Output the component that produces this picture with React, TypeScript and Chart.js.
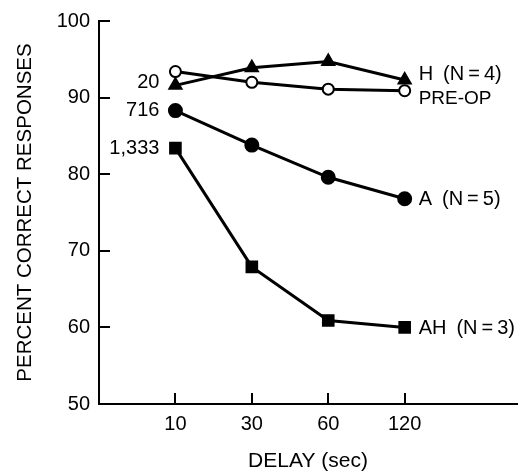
import React, { useEffect, useRef } from "react";
import { Chart, registerables } from "chart.js";

Chart.register(...registerables);

const delayLabels = ["10", "30", "60", "120"];
const yTicks = [50, 60, 70, 80, 90, 100];

const hValues = [91.6, 93.9, 94.7, 92.3];
const preOpValues = [93.4, 92.0, 91.1, 90.9];
const aValues = [88.3, 83.8, 79.6, 76.8];
const ahValues = [83.4, 67.9, 60.9, 60.0];

const seriesNames = ["H\u2002(N\u2009=\u20094)", "PRE-OP", "A\u2002(N\u2009=\u20095)", "AH\u2002(N\u2009=\u20093)"];
const countLabels = ["20", "", "716", "1,333"];

const FONT = "'Liberation Sans', Arial, Helvetica, sans-serif";

const toPts = (arr: number[]) => arr.map((y, i) => ({ x: i + 1, y }));

const decorPlugin = {
  id: "decor",
  afterDatasetsDraw(chart: any) {
    const ctx = chart.ctx;
    const xs = chart.scales.x;
    const ys = chart.scales.y;
    const area = chart.chartArea;
    ctx.save();
    ctx.strokeStyle = "#000";
    ctx.lineWidth = 2;
    // inward ticks
    yTicks.forEach((v) => {
      const py = Math.round(ys.getPixelForValue(v));
      ctx.beginPath();
      ctx.moveTo(area.left, py);
      ctx.lineTo(area.left + 11, py);
      ctx.stroke();
    });
    delayLabels.forEach((_, i) => {
      const px = Math.round(xs.getPixelForValue(i + 1));
      ctx.beginPath();
      ctx.moveTo(px, area.bottom);
      ctx.lineTo(px, area.bottom - 11);
      ctx.stroke();
    });
    // series labels
    ctx.fillStyle = "#000";
    ctx.textBaseline = "middle";
    const nameOffsets = [-5, 8, 1, 1];
    const nameSizes = [20, 19, 20, 20];
    chart.data.datasets.forEach((ds: any, di: number) => {
      const last = ds.data[ds.data.length - 1];
      const px = xs.getPixelForValue(last.x);
      const py = ys.getPixelForValue(last.y);
      ctx.font = nameSizes[di] + "px " + FONT;
      ctx.textAlign = "left";
      ctx.fillText(seriesNames[di], px + 14, py + nameOffsets[di]);
      const lbl = countLabels[di];
      if (lbl) {
        const first = ds.data[0];
        const fx = xs.getPixelForValue(first.x);
        const fy = ys.getPixelForValue(first.y);
        ctx.font = "20px " + FONT;
        ctx.textAlign = "right";
        ctx.fillText(lbl, fx - 16, fy + (di === 0 ? -3 : 0));
      }
    });
    ctx.restore();
  },
};

export default function App() {
  const ref = useRef<HTMLCanvasElement | null>(null);
  useEffect(() => {
    if (!ref.current) return;
    const common = {
      borderColor: "#000",
      borderWidth: 3,
      pointBorderColor: "#000",
      pointBorderWidth: 2,
    };
    const chart = new Chart(ref.current, {
      type: "line",
      data: {
        datasets: [
          {
            ...common,
            label: seriesNames[0],
            data: toPts(hValues),
            pointStyle: "triangle",
            pointRadius: 7,
            pointBackgroundColor: "#000",
          },
          {
            ...common,
            label: seriesNames[1],
            data: toPts(preOpValues),
            pointStyle: "circle",
            pointRadius: 5.5,
            pointBackgroundColor: "#fff",
          },
          {
            ...common,
            label: seriesNames[2],
            data: toPts(aValues),
            pointStyle: "circle",
            pointRadius: 6.5,
            pointBackgroundColor: "#000",
          },
          {
            ...common,
            label: seriesNames[3],
            data: toPts(ahValues),
            pointStyle: "rect",
            pointRadius: 7.5,
            pointBackgroundColor: "#000",
          },
        ],
      },
      options: {
        animation: false,
        responsive: false,
        maintainAspectRatio: false,
        layout: { padding: { top: 21, right: 10, left: 0, bottom: 0 } },
        plugins: { legend: { display: false }, tooltip: { enabled: false } },
        scales: {
          x: {
            type: "linear",
            min: 0,
            max: 5.47,
            afterBuildTicks: (s: any) => {
              s.ticks = delayLabels.map((_, i) => ({ value: i + 1 }));
            },
            afterFit: (s: any) => {
              s.height = 68;
            },
            grid: { display: true, drawOnChartArea: false, drawTicks: false },
            border: { display: true, color: "#000", width: 2 },
            ticks: {
              color: "#000",
              font: { family: FONT, size: 20 },
              padding: 8,
              maxRotation: 0,
              autoSkip: false,
              callback: (v: any) => delayLabels[Number(v) - 1] ?? "",
            },
            title: {
              display: true,
              text: "DELAY (sec)",
              color: "#000",
              font: { family: FONT, size: 21, lineHeight: 1 },
              padding: 0,
            },
          },
          y: {
            min: 50,
            max: 100,
            afterBuildTicks: (s: any) => {
              s.ticks = yTicks.map((v) => ({ value: v }));
            },
            afterFit: (s: any) => {
              s.width = 99;
            },
            grid: { display: true, drawOnChartArea: false, drawTicks: false },
            border: { display: true, color: "#000", width: 2 },
            ticks: {
              color: "#000",
              font: { family: FONT, size: 20 },
              padding: 9,
            },
            title: {
              display: true,
              text: "PERCENT CORRECT RESPONSES",
              color: "#000",
              font: { family: FONT, size: 20.5, lineHeight: 1 },
              padding: { top: 15, bottom: 0 },
            },
          },
        },
      },
      plugins: [decorPlugin],
    } as any);
    return () => chart.destroy();
  }, []);
  return (
    <div style={{ position: "absolute", left: 0, top: 0, width: 527, height: 472, background: "#fff" }}>
      <canvas ref={ref} width={527} height={472} style={{ width: 527, height: 472 }} />
    </div>
  );
}
